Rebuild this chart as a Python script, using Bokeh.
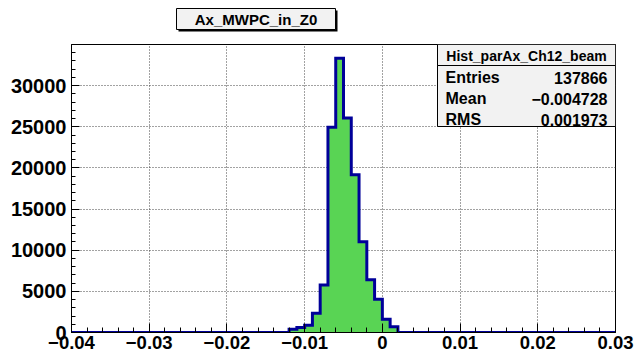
import numpy as np
from bokeh.plotting import figure
from bokeh.layouts import column
from bokeh.models import (Range1d, SingleIntervalTicker, FixedTicker, CustomJSTickFormatter,
                          BoxAnnotation, Label)
from bokeh.core.properties import value
from bokeh.embed import file_html
from bokeh.resources import INLINE

# Histogram Hist_parAx_Ch12_beam: 70 bins of width 0.001 on [-0.04, 0.03]
x_lo, x_hi = -0.04, 0.03
bin_width = 0.001
counts = [
    0, 0, 0, 0, 0, 0, 0, 0, 0, 0,
    0, 0, 0, 0, 0, 0, 0, 0, 0, 0,
    0, 0, 0, 0, 0, 0, 0, 0, 400, 600,
    890, 2350, 5760, 24940, 33330, 26080, 19180, 11030, 6410, 4055,
    1620, 690, 0, 0, 0, 0, 0, 0, 0, 0,
    0, 0, 0, 0, 0, 0, 0, 0, 0, 0,
    0, 0, 0, 0, 0, 0, 0, 0, 0, 0,
]
y_hi = 35000
y_ticks = [0, 5000, 10000, 15000, 20000, 25000, 30000]

title_text = "Ax_MWPC_in_Z0"
stats_name = "Hist_parAx_Ch12_beam"
stats_labels = ["Entries", "Mean", "RMS"]
stats_values = ["137866", "\u22120.004728", "0.001973"]

FONT = "Liberation Sans"
FILL = "#59d454"
EDGE = "#000099"
PAVE = "#f2f2f2"

W, H = 636, 356
TOP_H = 40                            # strip holding the title pave
FL, FR, FT, FB = 71, 615, 44, 332     # frame edges in page pixels

# ---- title strip (its frame is aligned with the histogram frame) ------
top = figure(width=W, height=TOP_H, output_backend="svg", toolbar_location=None,
             x_range=Range1d(FL, FR), y_range=Range1d(TOP_H, 0),
             x_axis_location=None, y_axis_location=None,
             min_border=0, min_border_left=FL, min_border_right=W - FR,
             min_border_top=0, min_border_bottom=0)
top.grid.visible = False
top.outline_line_color = None
top.background_fill_color = "white"
top.border_fill_color = "white"
top.quad(left=178, right=337, top=10, bottom=31, fill_color="black", line_color=None)
top.quad(left=176, right=335, top=8, bottom=29, fill_color=PAVE,
         line_color="black", line_width=1)
top.text(x=[255.5], y=[19], text=[title_text], text_font=value(FONT),
         text_font_style="bold", text_font_size="15px", text_color="black",
         text_align="center", text_baseline="middle")

# ---- histogram ---------------------------------------------------------
p = figure(width=W, height=H - TOP_H, output_backend="svg", toolbar_location=None,
           x_range=Range1d(x_lo, x_hi), y_range=Range1d(0, y_hi),
           min_border_left=FL, min_border_right=W - FR,
           min_border_top=FT - TOP_H, min_border_bottom=H - FB)
p.background_fill_color = "white"
p.border_fill_color = "white"
p.outline_line_color = "black"
p.outline_line_width = 1

edges = x_lo + bin_width * np.arange(len(counts) + 1)
cnt = np.array(counts, dtype=float)
sx = np.repeat(edges, 2)
sy = np.concatenate([[0.0], np.repeat(cnt, 2), [0.0]])
p.patch(sx, sy, fill_color=FILL, line_color=None)
p.line(sx, sy, line_color=EDGE, line_width=3, line_join="miter")

# axes
p.xaxis.ticker = SingleIntervalTicker(interval=0.01, num_minor_ticks=5)
p.yaxis.ticker = FixedTicker(ticks=y_ticks, minor_ticks=list(range(0, y_hi + 1, 1000)))
p.xaxis.formatter = CustomJSTickFormatter(code="""
    if (Math.abs(tick) < 1e-9) return "0";
    const s = Math.abs(tick).toFixed(2);
    return (tick < 0 ? "\\u2212" : "") + s;
""")
p.yaxis.formatter = CustomJSTickFormatter(code="return tick.toFixed(0);")
for ax in (p.xaxis[0], p.yaxis[0]):
    ax.major_label_text_font = FONT
    ax.major_label_text_font_style = "bold"
    ax.major_label_text_color = "black"
    ax.axis_line_color = "black"
    ax.major_tick_line_color = "black"
    ax.minor_tick_line_color = "black"
    ax.major_tick_out = 0
    ax.minor_tick_out = 0
p.xaxis.major_label_text_font_size = "18.5px"
p.yaxis.major_label_text_font_size = "20px"
p.xaxis.major_tick_in = 9
p.xaxis.minor_tick_in = 5
p.yaxis.major_tick_in = 8
p.yaxis.minor_tick_in = 4
p.xaxis.major_label_standoff = 3
p.yaxis.major_label_standoff = 5

for g in (p.xgrid[0], p.ygrid[0]):
    g.grid_line_color = "#444444"
    g.grid_line_dash = "1 2"
    g.grid_line_width = 1


# statistics box placement (page pixels -> data units)
def dx(px):
    return x_lo + (px - FL) / (FR - FL) * (x_hi - x_lo)


def dy(py):
    return y_hi * (FB - py) / (FB - FT)


def box(l, r, t, b, fill):
    p.add_layout(BoxAnnotation(left=dx(l), right=dx(r), top=dy(t), bottom=dy(b),
                               fill_color=fill, fill_alpha=1.0,
                               line_color="black", line_width=1, line_alpha=1.0))


def text(px, py, s, size, align):
    p.add_layout(Label(x=dx(px), y=dy(py), text=s, text_font=FONT,
                       text_font_style="bold", text_font_size=size,
                       text_color="black", text_align=align,
                       text_baseline="middle"))


box(437, 615, 44, 126, PAVE)
box(437, 615, 44, 65, PAVE)
text(526, 55, stats_name, "14px", "center")
for i, (lab, val) in enumerate(zip(stats_labels, stats_values)):
    y = 77 + 21 * i
    text(445, y, lab, "16px", "left")
    text(607, y, val, "16px", "right")

open("out.html", "w").write(file_html(column(top, p, spacing=0), INLINE))
